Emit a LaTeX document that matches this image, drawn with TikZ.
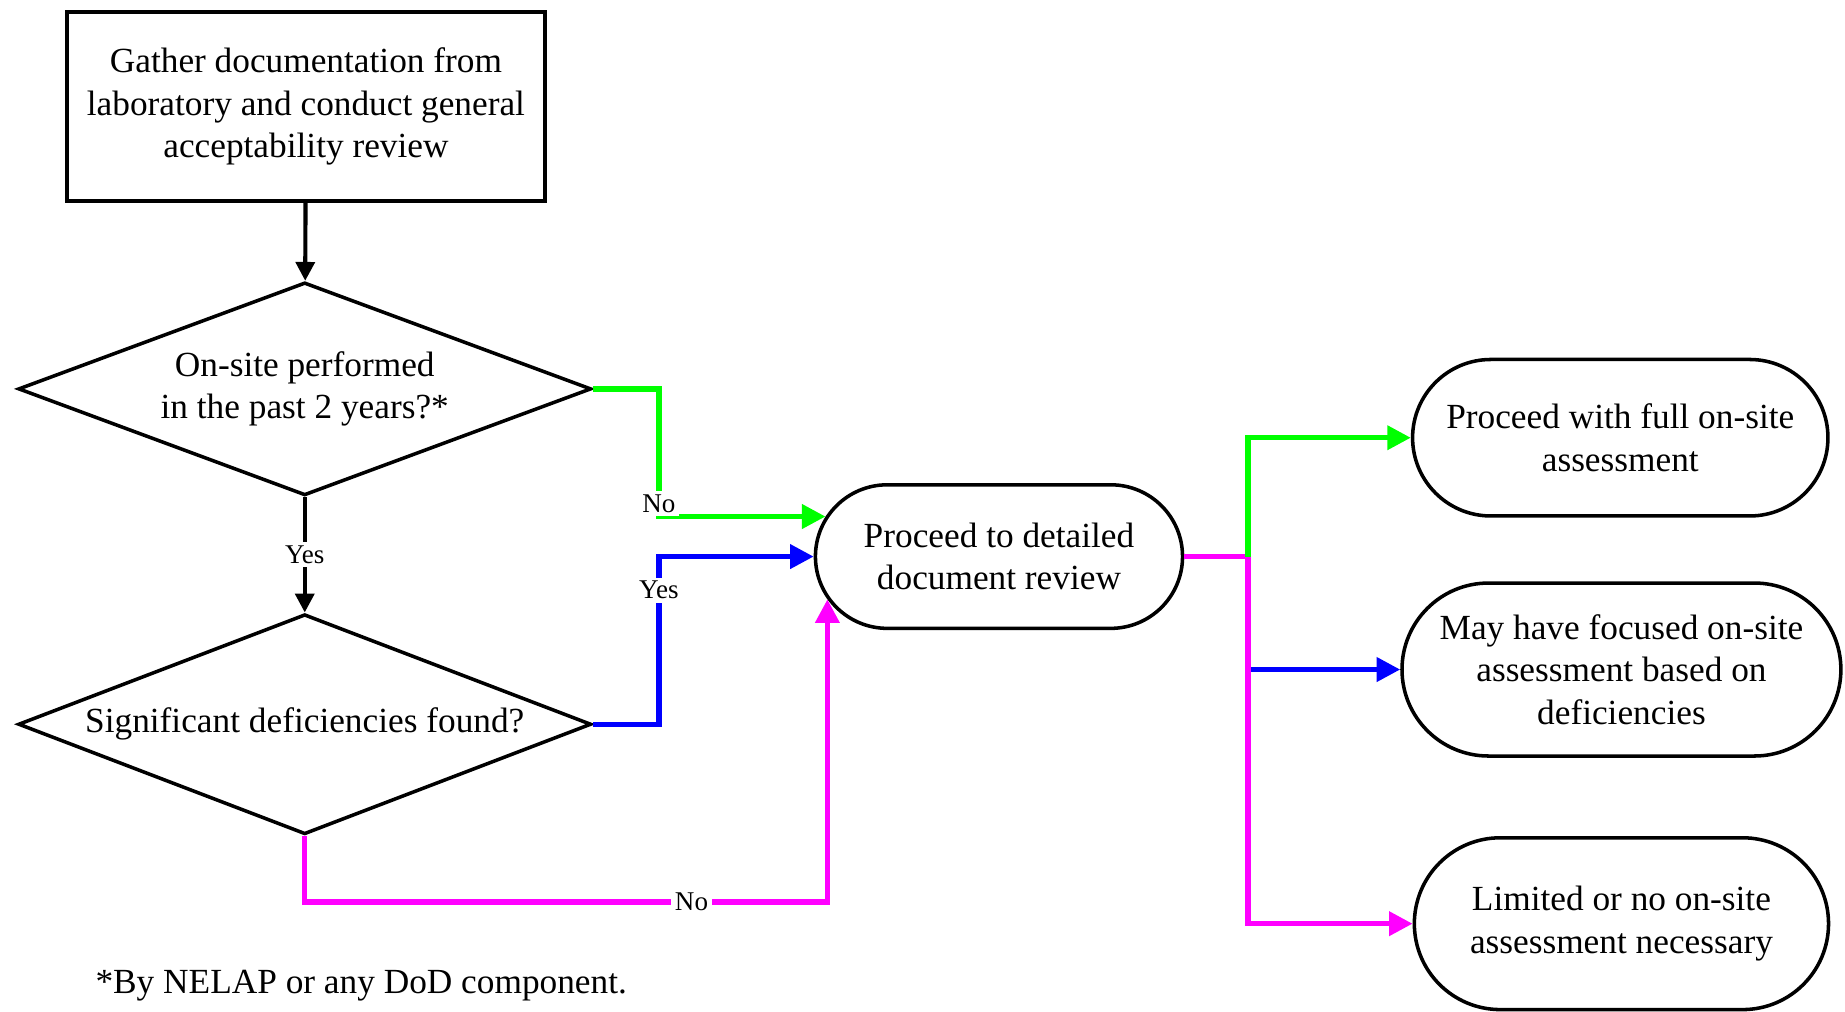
\documentclass[tikz,border=0pt]{standalone}
\usepackage{fontspec}
\setmainfont{Liberation Serif}
\usepackage{tikz}
\usetikzlibrary{shapes.geometric}
\usetikzlibrary{shapes.misc}
\usetikzlibrary{arrows.meta}
\definecolor{fgreen}  {RGB}{0,255,0}
\definecolor{fblue}   {RGB}{0,0,255}
\definecolor{fmagenta}{RGB}{255,0,255}
\tikzset{
    stepbox/.style={draw, line width=3pt, rectangle, align=center,
             minimum width=406pt, minimum height=161pt},
    question/.style={draw, line width=3pt, diamond, aspect=2.6, align=center, inner sep=0pt,
             minimum width=487pt},
    outcome/.style={draw, line width=3pt, rounded rectangle, inner sep=0pt},
    outtext/.style={align=center, inner sep=0pt},
    flowline/.style={draw=black, line width=3.5pt, -{Triangle[length=16pt,width=16pt]}},
    greenline/.style={draw=fgreen, line width=4.5pt, -{Triangle[length=20pt,width=20pt]}},
    blueline/.style={draw=fblue, line width=4.5pt, -{Triangle[length=20pt,width=20pt]}},
    magentaline/.style={draw=fmagenta, line width=4.5pt, -{Triangle[length=20pt,width=20pt]}},
    lbl/.style={fill=white, inner sep=3pt, font=\fontsize{23}{26}\selectfont}
  }
\begin{document}
\begin{tikzpicture}[x=1pt, y=-1pt, font=\fontsize{30}{36}\selectfont]
 \useasboundingbox (0,0) rectangle (1568,860);
 %Start box
     \node[stepbox] (gather) at (260,90.5)
        {Gather documentation from\\laboratory and conduct general\\acceptability review};
 %Questions
     \node[question, minimum height=181pt] (recent) at (259,330.5)
        {On-site performed\\in the past 2 years?*};
     \node[question, minimum height=187pt] (signif) at (259,615.5)
        {Significant deficiencies found?};
 %Review and outcomes
     \node[outcome, minimum width=312pt, minimum height=122pt,
        label={[outtext]center:{Proceed to detailed\\document review}}] (docrev) at (849,473) {};
     \node[outcome, minimum width=353pt, minimum height=133pt,
        label={[outtext]center:{Proceed with full on-site\\assessment}}] (full) at (1377,372) {};
     \node[outcome, minimum width=373pt, minimum height=147pt,
        label={[outtext]center:{May have focused on-site\\assessment based on\\deficiencies}}] (may) at (1378,569) {};
     \node[outcome, minimum width=352pt, minimum height=146pt,
        label={[outtext]center:{Limited or no on-site\\assessment necessary}}] (lim) at (1378,785) {};
 %Footnote
     \node (note) at (307,838) {*By NELAP or any DoD component.};
 %Left flow
     \draw[flowline] (gather) -- (recent);
     \draw[flowline] (recent) -- node[lbl]{Yes} (signif);
     \draw[greenline] (recent.east) -- ++(56,0) |- node[lbl, pos=0.45]{No} (docrev.167);
     \draw[blueline] (signif.east) -- ++(56,0) |- node[lbl, pos=0.4]{Yes} (docrev.west);
     \draw[magentaline] (signif.south) -- ++(0,56) -| node[lbl, pos=0.37]{No} (docrev.194);
 %Right flow
     \draw[draw=fmagenta, line width=4.5pt] (docrev.east) -- ++(54,0) coordinate (split);
     \draw[greenline] (split) |- (full.west);
     \draw[blueline] (split |- may.west) -- (may.west);
     \draw[magentaline] (split) |- (lim.west);
\end{tikzpicture}
\end{document}
